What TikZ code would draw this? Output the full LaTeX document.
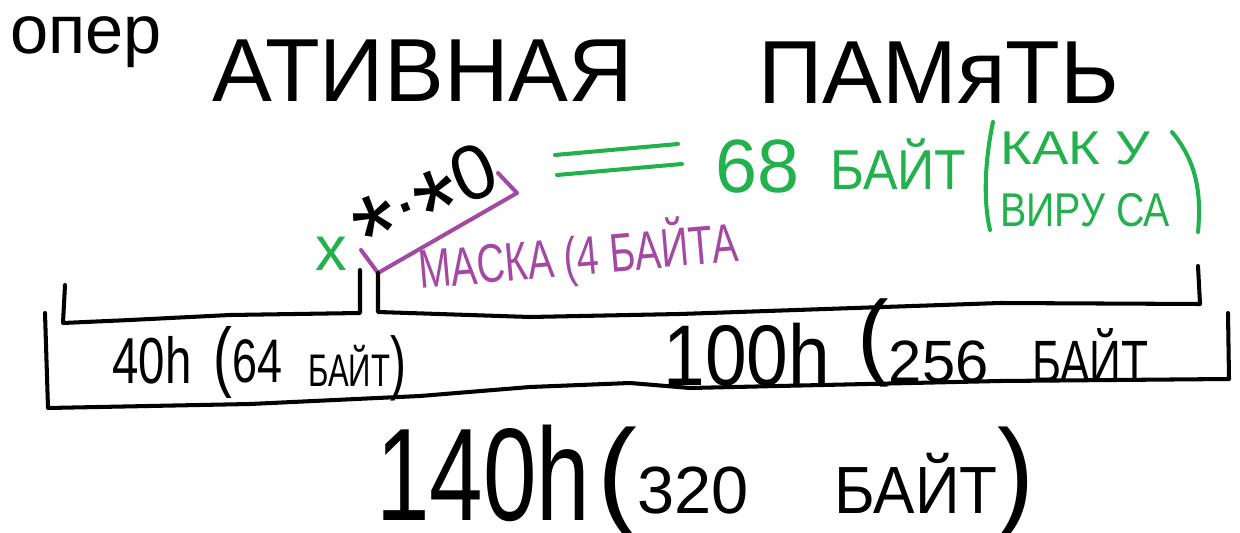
\documentclass[tikz,border=0pt]{standalone}
\usepackage{fontspec}
\setmainfont{Liberation Sans}
\usepackage{graphicx}
\definecolor{mspgreen}{HTML}{22B14C}
\definecolor{msppurple}{HTML}{A349A4}
\newcommand{\fsz}[1]{\fontsize{#1}{#1}\selectfont}
\newcommand{\sq}[2]{\scalebox{#1}[1]{#2}}
\newcommand{\bigast}{{\fsz{64}\raisebox{-0.3em}{*}}}
\tikzset{pen/.style={line width=2.3pt, line cap=round, line join=round},
	txt/.style={inner sep=0pt, anchor=base west}}

\begin{document}
\begin{tikzpicture}[x=0.02cm,y=-0.02cm]
	\useasboundingbox (0,0) rectangle (1240,533);
	
	\node[txt] (ttlA) at (10,54) {\fsz{39}опер};
	\node[txt] (ttlB) at (212,102) {\fsz{51}АТИВНАЯ};
	\node[txt] (ttlC) at (758,104) {\fsz{51}ПАМяТЬ};
	
	\node[txt, rotate=22] (maskval) at (362,246) {\fsz{44}\bigast\raisebox{0.2em}{.}\bigast0};
	\node[inner sep=0pt, text=mspgreen] (cross) at (331,254) {\fsz{36}x};
	\draw[pen, msppurple] (361,250) -- (378,273) -- (517,193) -- (498,173);
	\node[txt, text=msppurple, rotate=5] (masklbl) at (420,289) {\fsz{31}\sq{0.72}{МАСКА (4 БАЙТА}};
	
	\draw[pen, mspgreen] (555,155) -- (678,144);
	\draw[pen, mspgreen] (557,175) -- (682,164);
	\node[txt, text=mspgreen] (virnum) at (715,193) {\fsz{43}68};
	\node[txt, text=mspgreen] (virunit) at (830,190) {\fsz{32}\sq{0.92}{БАЙТ}};
	\draw[pen, mspgreen] (993,122) .. controls (985,160) and (983,200) .. (990,230);
	\draw[pen, mspgreen] (1172,132) .. controls (1195,160) and (1202,190) .. (1198,232);
	\node[txt, text=mspgreen] (virA) at (1000,165) {\fsz{27}\sq{1.15}{КАК У}};
	\node[txt, text=mspgreen] (virB) at (1000,227) {\fsz{27}\sq{0.83}{ВИРУ СА}};
	
	\draw[pen] (65,285) -- (63,323) -- (130,320) -- (230,315) -- (360,313) -- (360,270);
	\draw[pen] (378,273) -- (378,312) -- (530,317) -- (680,314) -- (1000,303) -- (1200,304) -- (1198,266);
	\draw[pen] (45,313) -- (48,408) -- (250,404) -- (420,396) -- (530,387) -- (630,383) -- (690,388) -- (1000,381) -- (1229,379) -- (1228,313);
	
	\node[txt] (lowhex) at (112,383) {\fsz{37}\sq{0.73}{40h}};
	\node[txt] (lowdec) at (213,382) {\sq{0.73}{{\fsz{44}(}\fsz{35}64}};
	\node[txt] (lowunit) at (308,386) {\sq{0.68}{{\fsz{26}БАЙТ}\fsz{40})}};
	
	\node[txt] (highhex) at (663,385) {\fsz{49}\sq{0.87}{100h}};
	\node[txt] (highdec) at (857,382) {\raisebox{8pt}{\fsz{54}(}\fsz{34}256};
	\node[txt] (highunit) at (1032,382) {\fsz{34}\sq{0.74}{БАЙТ}};
	
	\node[txt] (sumhex) at (376,520) {\fsz{75}\sq{0.73}{140h}};
	\node[txt] (sumdec) at (597,513) {{\fsz{68}(}\fsz{38}320};
	\node[txt] (sumunit) at (834,513) {\sq{0.93}{{\fsz{38}БАЙТ}\fsz{68})}};
\end{tikzpicture}
\end{document}
